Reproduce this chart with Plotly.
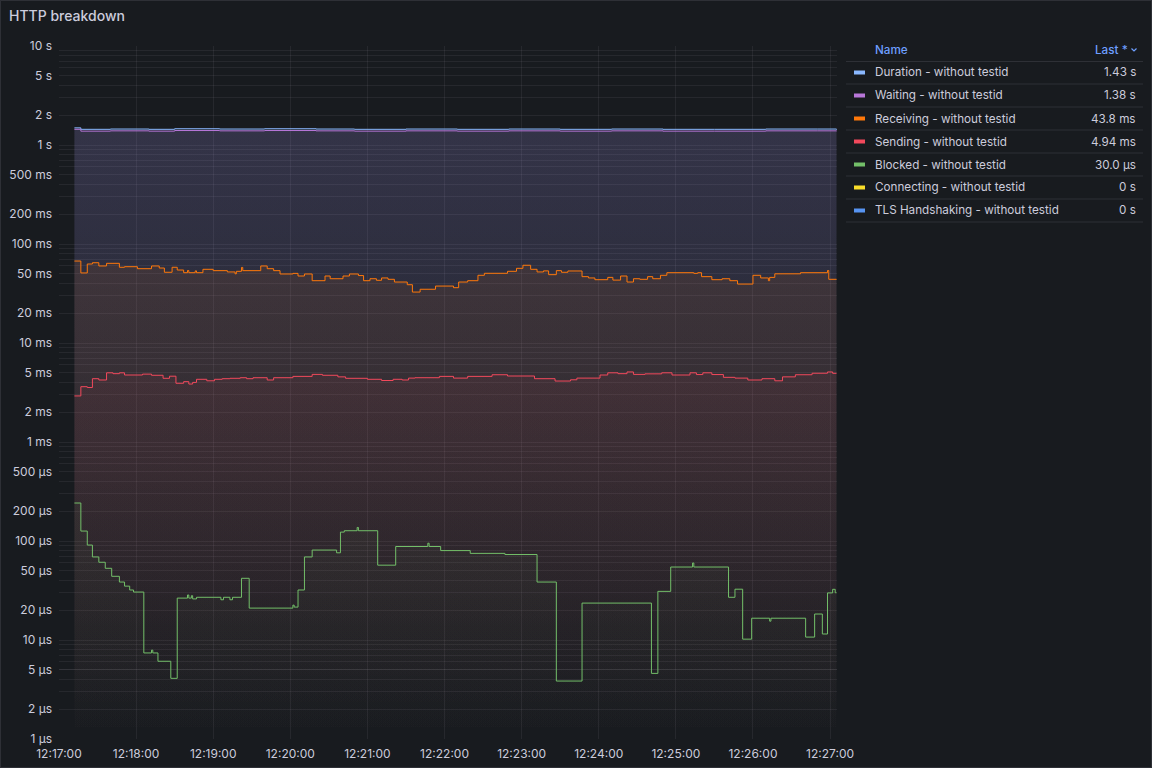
import math
import plotly.graph_objects as go

DAY = "2024-05-14 "

# ---------------- data ----------------
duration_t = ["12:17:12", "12:17:17", "12:17:40", "12:18:10", "12:18:30", "12:19:05", "12:19:40",
              "12:20:20", "12:20:50", "12:21:30", "12:22:10", "12:22:50", "12:23:30", "12:24:10",
              "12:24:50", "12:25:30", "12:26:10", "12:26:50", "12:27:05"]
duration_s = [1.49, 1.44, 1.45, 1.44, 1.46, 1.45, 1.46, 1.45, 1.44, 1.45, 1.44, 1.45, 1.44, 1.45,
              1.44, 1.44, 1.45, 1.45, 1.43]

waiting_t = duration_t
waiting_s = [1.44, 1.38, 1.39, 1.38, 1.40, 1.39, 1.40, 1.39, 1.38, 1.39, 1.38, 1.39, 1.38, 1.39,
             1.38, 1.38, 1.39, 1.39, 1.38]

receiving_t = ["12:17:12", "12:17:17", "12:17:22", "12:17:26", "12:17:31", "12:17:37", "12:17:47",
               "12:17:51", "12:18:01", "12:18:12", "12:18:18", "12:18:22", "12:18:28", "12:18:32",
               "12:18:37", "12:18:40", "12:18:41", "12:18:46", "12:18:47", "12:18:52", "12:19:00",
               "12:19:11", "12:19:17", "12:19:18", "12:19:22", "12:19:23", "12:19:37", "12:19:42",
               "12:19:47", "12:19:52", "12:20:02", "12:20:06", "12:20:11", "12:20:17", "12:20:27",
               "12:20:31", "12:20:41", "12:20:46", "12:20:53", "12:20:57", "12:21:02", "12:21:07",
               "12:21:11", "12:21:16", "12:21:21", "12:21:31", "12:21:35", "12:21:41", "12:21:53",
               "12:22:07", "12:22:11", "12:22:18", "12:22:26", "12:22:31", "12:22:49", "12:22:56",
               "12:23:01", "12:23:07", "12:23:12", "12:23:17", "12:23:21", "12:23:27", "12:23:31",
               "12:23:36", "12:23:47", "12:23:52", "12:23:57", "12:24:07", "12:24:11", "12:24:17",
               "12:24:22", "12:24:27", "12:24:32", "12:24:38", "12:24:42", "12:24:48", "12:24:53",
               "12:25:14", "12:25:17", "12:25:20", "12:25:28", "12:25:36", "12:25:42", "12:25:48",
               "12:26:00", "12:26:06", "12:26:12", "12:26:13", "12:26:17", "12:26:37", "12:26:58",
               "12:26:59", "12:27:05"]
receiving_ms = [67.3, 51.0, 62.8, 64.7, 60.0, 63.8, 58.2, 59.0, 56.3, 60.0, 57.2, 51.8, 58.2, 54.6,
                51.3, 54.0, 51.3, 53.5, 51.3, 55.5, 53.8, 52.2, 50.0, 53.0, 58.0, 53.8, 60.0, 56.3,
                53.8, 49.8, 50.5, 47.5, 49.8, 42.6, 47.5, 44.6, 47.5, 49.8, 48.0, 42.6, 44.6, 43.0,
                45.4, 44.0, 41.3, 38.8, 32.7, 34.9, 37.6, 36.2, 41.3, 42.6, 48.3, 50.6, 53.0, 56.8,
                61.0, 55.5, 52.2, 53.5, 49.0, 53.8, 51.8, 53.4, 46.8, 45.4, 43.6, 46.0, 43.2, 47.5,
                41.3, 44.6, 44.0, 46.8, 44.6, 48.3, 51.3, 50.5, 51.3, 46.8, 43.6, 44.6, 42.6, 39.4,
                48.3, 45.4, 42.6, 46.0, 50.0, 51.3, 54.0, 44.0, 43.8]

sending_t = ["12:17:12", "12:17:17", "12:17:22", "12:17:26", "12:17:31", "12:17:37", "12:17:42",
             "12:17:47", "12:17:51", "12:18:05", "12:18:12", "12:18:21", "12:18:26", "12:18:31",
             "12:18:37", "12:18:41", "12:18:44", "12:18:47", "12:18:55", "12:19:01", "12:19:07",
             "12:19:13", "12:19:21", "12:19:26", "12:19:31", "12:19:42", "12:19:47", "12:20:02",
             "12:20:17", "12:20:25", "12:20:37", "12:20:43", "12:21:00", "12:21:11", "12:21:20",
             "12:21:27", "12:21:32", "12:21:37", "12:21:56", "12:22:07", "12:22:18", "12:22:37",
             "12:22:49", "12:23:10", "12:23:26", "12:23:38", "12:23:43", "12:24:01", "12:24:07",
             "12:24:15", "12:24:22", "12:24:27", "12:24:36", "12:24:49", "12:24:57", "12:25:11",
             "12:25:16", "12:25:21", "12:25:28", "12:25:37", "12:25:46", "12:25:56", "12:26:07",
             "12:26:17", "12:26:23", "12:26:33", "12:26:46", "12:26:58", "12:27:02", "12:27:05"]
sending_ms = [2.92, 3.62, 3.55, 4.36, 4.23, 5.0, 4.9, 5.0, 4.75, 4.85, 4.72, 4.4, 4.62, 3.92,
              4.07, 3.85, 4.0, 4.3, 4.15, 4.3, 4.36, 4.4, 4.46, 4.36, 4.46, 4.23, 4.46, 4.6,
              4.82, 4.72, 4.55, 4.4, 4.3, 4.18, 4.3, 4.23, 4.42, 4.46, 4.6, 4.42, 4.6, 4.78,
              4.64, 4.36, 4.13, 4.25, 4.42, 4.75, 5.0, 4.9, 5.1, 4.82, 4.88, 5.0, 4.75, 5.0,
              4.8, 5.0, 4.8, 4.5, 4.42, 4.23, 4.36, 4.15, 4.55, 4.78, 4.95, 5.1, 4.94, 4.94]

blocked_t = ["12:17:12", "12:17:17", "12:17:22", "12:17:26", "12:17:31", "12:17:36", "12:17:41",
             "12:17:47", "12:17:51", "12:17:55", "12:17:58", "12:18:06", "12:18:12", "12:18:13",
             "12:18:17", "12:18:27", "12:18:32", "12:18:40", "12:18:41", "12:18:43", "12:18:44",
             "12:18:47", "12:19:06", "12:19:08", "12:19:13", "12:19:15", "12:19:22", "12:19:28",
             "12:20:02", "12:20:03", "12:20:06", "12:20:11", "12:20:17", "12:20:36", "12:20:39",
             "12:20:42", "12:20:52", "12:20:53", "12:21:08", "12:21:22", "12:21:47", "12:21:48",
             "12:21:57", "12:22:20", "12:22:47", "12:23:12", "12:23:27", "12:23:47", "12:24:41",
             "12:24:46", "12:24:56", "12:25:13", "12:25:14", "12:25:41", "12:25:46", "12:25:52",
             "12:25:59", "12:26:13", "12:26:14", "12:26:41", "12:26:48", "12:26:54", "12:26:58",
             "12:27:02", "12:27:04", "12:27:05"]
blocked_us = [242, 126, 91, 69, 61, 53, 44, 38.5, 35, 32, 30.5, 7.4, 7.9, 7.4, 6.1, 4.1, 26.5,
              28.5, 26.5, 28, 26, 27, 25.5, 27, 25.5, 27, 42, 21, 22.5, 21.5, 32, 69, 81, 76,
              123, 127, 137, 127, 57, 88, 95, 88, 80, 75, 73, 38.5, 3.85, 23.6, 4.6, 31, 54.6,
              60, 54.6, 27, 32.6, 10.2, 16.6, 15.5, 16.6, 10.7, 18.3, 11.5, 29.9, 32.5, 30.0,
              30.0]

connecting_t = ["12:17:12", "12:27:05"]
connecting_s = [0, 0]
tls_t = ["12:17:12", "12:27:05"]
tls_s = [0, 0]

series_names = ["Duration - without testid", "Waiting - without testid",
                "Receiving - without testid", "Sending - without testid",
                "Blocked - without testid", "Connecting - without testid",
                "TLS Handshaking - without testid"]
series_colors = ["#8ab8ff", "#b877d9", "#ff780a", "#f2495c", "#73bf69", "#fade2a", "#5794f2"]

y_tick_vals = [1e-6, 2e-6, 5e-6, 1e-5, 2e-5, 5e-5, 1e-4, 2e-4, 5e-4, 1e-3, 2e-3, 5e-3,
               1e-2, 2e-2, 5e-2, 0.1, 0.2, 0.5, 1, 2, 5, 10]
y_tick_text = ["1 µs", "2 µs", "5 µs", "10 µs", "20 µs", "50 µs", "100 µs", "200 µs", "500 µs",
               "1 ms", "2 ms", "5 ms", "10 ms", "20 ms", "50 ms", "100 ms", "200 ms", "500 ms",
               "1 s", "2 s", "5 s", "10 s"]
x_tick_text = ["12:17:00", "12:18:00", "12:19:00", "12:20:00", "12:21:00", "12:22:00",
               "12:23:00", "12:24:00", "12:25:00", "12:26:00", "12:27:00"]
x_range = ["12:17:00", "12:27:05.4"]

# ---------------- build ----------------
FONT = "Inter, Roboto, sans-serif"
TXT = "#ccccdc"
GRID = "rgba(204,204,220,0.08)"
FILL_ALPHA = 0.12

series = [
    (duration_t, [v for v in duration_s]),
    (waiting_t, [v for v in waiting_s]),
    (receiving_t, [v / 1e3 for v in receiving_ms]),
    (sending_t, [v / 1e3 for v in sending_ms]),
    (blocked_t, [v / 1e6 for v in blocked_us]),
    (connecting_t, connecting_s),
    (tls_t, tls_s),
]


def rgba(hexc, a):
    h = hexc.lstrip("#")
    r, g, b = int(h[0:2], 16), int(h[2:4], 16), int(h[4:6], 16)
    return f"rgba({r},{g},{b},{a})"


fig = go.Figure()
for (ts, vs), name, col in zip(series, series_names, series_colors):
    xs = [DAY + t for t in ts]
    has_data = any(v > 0 for v in vs)
    kw = {}
    if has_data:
        kw = dict(fill="tozeroy",
                  fillgradient=dict(type="vertical", start=1e-6, stop=10,
                                    colorscale=[[0, rgba(col, 0.0)], [1, rgba(col, FILL_ALPHA)]]))
    fig.add_trace(go.Scatter(x=xs, y=vs, name=name, mode="lines",
                             line=dict(color=col, width=1, shape="hv"),
                             showlegend=False, hoverinfo="skip", **kw))

# minor grid values (all 1..9 multiples)
minor_vals = []
for e in range(-6, 1):
    for m in range(2, 10):
        v = m * 10 ** e
        if v not in y_tick_vals:
            minor_vals.append(v)

L, R, T, B = 59, 315, 46, 29
W, H = 1152, 768
PW, PH = W - L - R, H - T - B


def px(x):
    return (x - L) / PW


def py(y):
    return (H - B - y) / PH


fig.update_layout(
    width=W, height=H,
    margin=dict(l=L, r=R, t=T, b=B, autoexpand=False),
    paper_bgcolor="#181b1f", plot_bgcolor="#181b1f",
    font=dict(family=FONT, color=TXT, size=12),
    title=dict(text="HTTP breakdown", x=9 / W, xanchor="left", y=1 - 16.5 / H, yanchor="middle",
               xref="container", yref="container",
               font=dict(family=FONT, size=14, color=TXT, weight=500)),
    xaxis=dict(type="date", range=[DAY + x_range[0], DAY + x_range[1]], automargin=False,
               tickvals=[DAY + t for t in x_tick_text], ticktext=x_tick_text,
               showgrid=True, gridcolor=GRID, gridwidth=1, zeroline=False, showline=False,
               ticks="", ticklabelstandoff=6, tickfont=dict(size=12, color=TXT)),
    yaxis=dict(type="log", range=[-6, 1], tickvals=y_tick_vals, ticktext=y_tick_text,
               automargin=False,
               showgrid=True, gridcolor=GRID, gridwidth=1, zeroline=False, showline=False,
               ticks="", ticklabelstandoff=6, tickfont=dict(size=12, color=TXT),
               minor=dict(tickvals=minor_vals, showgrid=True, gridcolor=GRID, gridwidth=1,
                          ticks="")),
    hovermode=False,
)

shapes = []
annotations = []

# panel border
shapes.append(dict(type="rect", xref="paper", yref="paper",
                   x0=px(0.5), x1=px(W - 0.5), y0=py(0.5), y1=py(H - 0.5),
                   line=dict(color="rgba(204,204,220,0.12)", width=1), fillcolor="rgba(0,0,0,0)",
                   layer="below"))

# legend table
LX0, LX1 = 846, 1143
LFS = 11.7
annotations.append(dict(xref="paper", yref="paper", x=px(873), y=py(49.5), text="Name",
                        showarrow=False, xanchor="left", yanchor="middle",
                        font=dict(family=FONT, size=LFS, color="#6e9fff", weight=500)))
annotations.append(dict(xref="paper", yref="paper", x=px(1130), y=py(49.5), text="Last *",
                        showarrow=False, xanchor="right", yanchor="middle",
                        font=dict(family=FONT, size=LFS, color="#6e9fff", weight=500)))
shapes.append(dict(type="path", xref="paper", yref="paper",
                   path=f"M {px(1131.5)} {py(48.5)} L {px(1134)} {py(51)} L {px(1136.5)} {py(48.5)}",
                   line=dict(color="#6e9fff", width=1.2)))


def fmt_last(v):
    if v == 0:
        return "0 s"
    if v >= 1:
        val, unit = v, "s"
    elif v >= 1e-3:
        val, unit = v * 1e3, "ms"
    else:
        val, unit = v * 1e6, "µs"
    dec = max(0, 2 - int(math.floor(math.log10(val))))
    return f"{val:.{dec}f} {unit}"


shapes.append(dict(type="line", xref="paper", yref="paper", x0=px(LX0), x1=px(LX1),
                   y0=py(61.5), y1=py(61.5), line=dict(color="rgba(204,204,220,0.12)", width=1)))
for i, ((ts, vs), name, col) in enumerate(zip(series, series_names, series_colors)):
    yc = 72.5 + 23 * i
    shapes.append(dict(type="line", xref="paper", yref="paper", x0=px(854), x1=px(865),
                       y0=py(yc), y1=py(yc), line=dict(color=col, width=4)))
    annotations.append(dict(xref="paper", yref="paper", x=px(873), y=py(yc), text=name,
                            showarrow=False, xanchor="left", yanchor="middle",
                            font=dict(family=FONT, size=LFS, color=TXT)))
    annotations.append(dict(xref="paper", yref="paper", x=px(1138), y=py(yc),
                            text=fmt_last(vs[-1]), showarrow=False, xanchor="right",
                            yanchor="middle", font=dict(family=FONT, size=LFS, color=TXT)))
    ys = yc + 11.5
    shapes.append(dict(type="line", xref="paper", yref="paper", x0=px(LX0), x1=px(LX1),
                       y0=py(ys), y1=py(ys), line=dict(color="rgba(204,204,220,0.12)", width=1)))

fig.update_layout(shapes=shapes, annotations=annotations)
fig.write_html("out.html", config={"displayModeBar": False},
               post_script="document.body.style.margin='0';document.body.style.padding='0';")
